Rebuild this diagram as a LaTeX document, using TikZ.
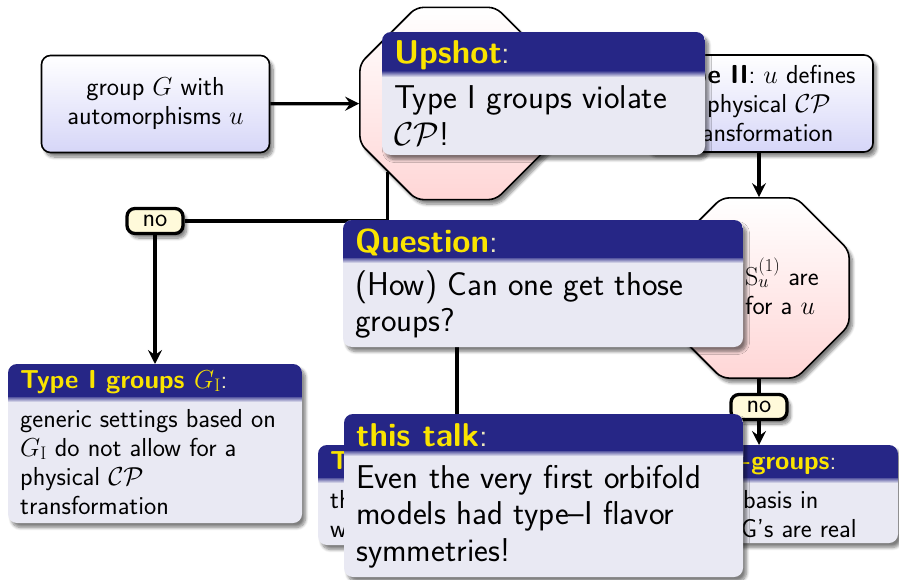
\RequirePackage{fix-cm}
\documentclass[tikz,border=0pt]{standalone}
\usepackage{amsmath}
\usetikzlibrary{shapes.geometric,arrows.meta,shadows.blur,backgrounds}

\definecolor{blocktitle}{RGB}{38,38,134}
\definecolor{blockbody}{RGB}{233,233,243}
\definecolor{titleyellow}{RGB}{250,228,0}
\definecolor{titlecolon}{RGB}{236,232,190}
\definecolor{boxlav}{RGB}{214,214,248}
\definecolor{octpink}{RGB}{255,214,214}
\definecolor{labelcream}{RGB}{255,250,218}

\newcommand\fontnormalblk{\fontsize{26}{29}\selectfont\sffamily}
\newcommand\fontlargeblk{\fontsize{33}{36.5}\selectfont\sffamily}
\newcommand\ttl[1]{\textcolor{titleyellow}{\bfseries #1}\textcolor{titlecolon}{:}}
% stacked lines whose baseline is the first line
\newcommand\stacklines[1]{\begin{tabular}[t]{@{}l@{}}#1\end{tabular}}

% block metrics: font, title baseline offset, body baseline offset
\newcommand\blockmetrics[3]{\def\blkfont{#1}\def\blktitlebase{#2}\def\blkbodybase{#3}}

% beamer-like block: name, x, y, width, title height, body height, title, body
\newcommand\slideblock[8]{%
  \coordinate (#1-nw) at (#2,#3);
  \coordinate (#1-se) at (#2+#4,#3+#5+#6);
  \coordinate (#1-tb) at (#2+#4,#3+#5);
  \coordinate (#1-n) at (#2+#4/2,#3);
  \fill[blockbody, rounded corners=9pt, softshadow] (#1-nw) rectangle (#1-se);
  \begin{scope}
    \clip[rounded corners=9pt] (#1-nw) rectangle (#1-se);
    \fill[blocktitle] (#1-nw) rectangle (#1-tb);
    \shade[top color=blocktitle!75!blockbody, bottom color=blockbody]
      (#1-nw |- #1-tb) rectangle ([yshift=-5pt]#1-tb);
  \end{scope}
  \node[blktext, font=\blkfont] (#1-title) at (#2+12,#3+\blktitlebase) {#7};
  \node[blktext, font=\blkfont] (#1) at (#2+12,#3+#5+\blkbodybase)
    {\stacklines{#8}};
}

\tikzset{
  softshadow/.style={blur shadow={shadow xshift=3.5pt, shadow yshift=-4.5pt,
      shadow blur radius=3pt, shadow blur steps=8, shadow opacity=50}},
  flowbox/.style={rectangle, rounded corners=9pt, draw=black, line width=1.6pt,
      top color=white, bottom color=boxlav, minimum width=228pt,
      minimum height=97pt, align=center, font=\fontnormalblk, inner sep=2pt,
      softshadow},
  octagon/.style={regular polygon, regular polygon sides=8, draw=black,
      line width=1.6pt, rounded corners=7pt, top color=white,
      bottom color=octpink, inner sep=0pt, softshadow},
  answer/.style={rectangle, rounded corners=8pt, draw=black, line width=3.3pt,
      fill=labelcream, minimum width=56pt, minimum height=25pt, inner sep=0pt,
      font=\fontnormalblk, softshadow},
  conn/.style={line width=3.2pt, draw=black},
  arr/.style={conn, -{Stealth[length=14pt, width=14pt, inset=5pt]}},
  blktext/.style={anchor=base west, inner sep=0pt},
}

\begin{document}
\begin{tikzpicture}[x=1pt, y=-1pt]
\useasboundingbox (0,0) rectangle (899,580);

% flow chart
\node[flowbox] (grp) at (155.5,104) {group $G$ with\\ automorphisms $u$};
\node[flowbox] (t2) at (759,103.5)
  {\textbf{Type II}: $u$ defines\\ a physical $\mathcal{CP}$\\ transformation};
\node[octagon, minimum size=208pt] (oct1) at (456,103.5) {};
\node[octagon, minimum size=195pt] (oct2) at (759,288) {};
\node[blktext, font=\fontnormalblk] (oct2-text) at (745,285)
  {\stacklines{$\mathrm{S}_u^{(1)}$ are\\ for a $u$}};
\node[answer] (no1) at (155,221) {no};
\node[answer] (no2) at (759,407) {no};

% result blocks
\blockmetrics{\fontnormalblk}{24}{30}
\slideblock{tI}{8}{364}{294}{33}{126}
  {\ttl{Type I groups $G_{\mathrm{I}}$}}
  {generic settings based on\\ $G_{\mathrm{I}}$ do not allow for a\\
   physical $\mathcal{CP}$\\ transformation}
\slideblock{tIIA}{318}{445}{278}{33}{67}
  {\ttl{Type II A-groups}}
  {there is a basis in\\ which all CG's are real}
\slideblock{tIIB}{615}{445}{283}{33}{65}
  {\ttl{Type II B-groups}}
  {there is no basis in\\ which all CG's are real}

% remarks on top
\blockmetrics{\fontlargeblk}{32}{37}
\slideblock{upshot}{382}{32}{323}{40}{83}
  {\ttl{Upshot}}
  {Type I groups violate\\ $\mathcal{CP}$!}
\slideblock{question}{343}{220}{400}{38}{89}
  {\ttl{Question}}
  {(How) Can one get those\\ groups?}
\slideblock{talk}{344}{414}{399}{37}{126}
  {\ttl{this talk}}
  {Even the very first orbifold\\ models had type--I flavor\\ symmetries!}

% connectors
\begin{pgfonlayer}{background}
  \draw[arr] (grp) -- (oct1);
  \draw[arr] (t2) -- (oct2);
  \draw[conn] (oct1.225) |- (no1);
  \draw[arr] (no1) -- (no1 |- tI-nw);
  \draw[conn] (oct2) -- (no2);
  \draw[arr] (no2) -- (no2 |- tIIB-nw);
  \draw[arr] (oct2.west) -| (tIIA-n);
\end{pgfonlayer}
\end{tikzpicture}
\end{document}
